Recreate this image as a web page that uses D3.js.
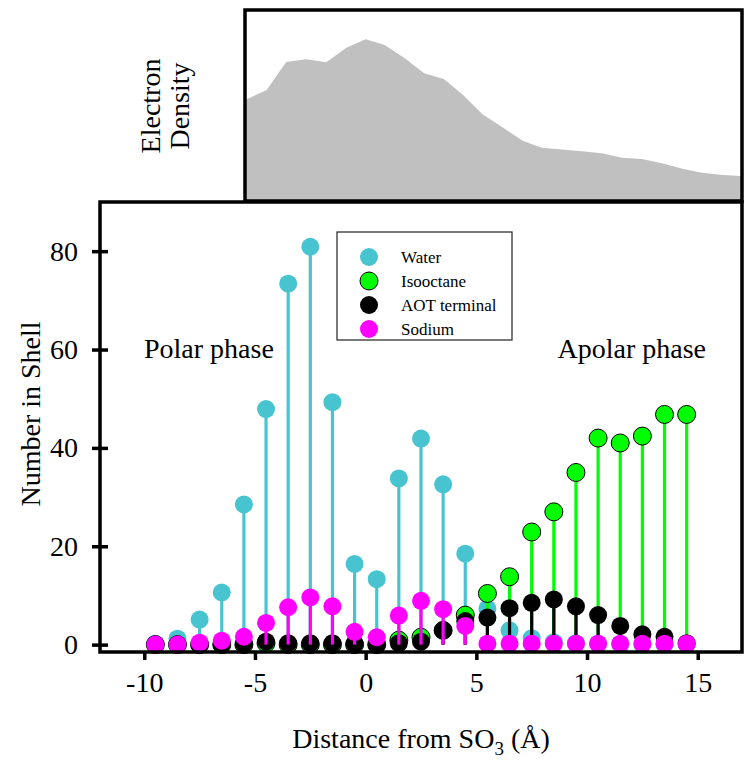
<!DOCTYPE html>
<html><head><meta charset="utf-8">
<script src="https://cdn.jsdelivr.net/npm/d3@7"></script>
<style>body{margin:0;background:#fff}text{font-family:"Liberation Serif","Times New Roman",serif}</style>
</head><body>
<svg id="c" width="752" height="764"></svg>
<script>
// ---- data ----
const distances = [-9.5,-8.5,-7.5,-6.5,-5.5,-4.5,-3.5,-2.5,-1.5,-0.5,0.5,1.5,2.5,3.5,4.5,5.5,6.5,7.5,8.5,9.5,10.5,11.5,12.5,13.5,14.5];
const water     = [0.2,1.2,5.1,10.6,28.5,47.9,73.4,80.9,49.3,16.4,13.3,33.8,41.9,32.6,18.5,7.3,2.9,1.3,0.5,0.3,0.2,0.1,0,0,0];
const isooctane = [0,0,0,0,0,0.3,0,0,0,0,0,0.9,1.5,2.9,6.0,10.4,13.8,22.9,27.0,35.0,42.0,41.0,42.4,46.8,46.8];
const aotTerminal = [0,0,0,0.1,0.2,0.6,0.3,0.3,0.3,0.2,0,0.3,0.6,2.9,4.8,5.5,7.4,8.5,9.2,7.8,6.0,3.8,2.1,1.6,0.3];
const sodium    = [0,0,0.4,0.8,1.6,4.4,7.6,9.6,7.8,2.6,1.5,5.9,8.9,7.2,3.8,0.2,0.2,0.2,0.2,0.2,0.2,0.2,0.2,0.2,0.2];
const densityX  = [-5.5,-5.4,-4.47,-3.59,-2.68,-1.78,-0.87,0,0.86,1.77,2.64,3.53,4.4,5.28,6.21,7.09,7.95,8.86,9.76,10.67,11.57,12.48,13.38,14.36,15.19,16.02,16.92,17];
const densityY  = [0.528,0.532,0.581,0.728,0.742,0.726,0.803,0.847,0.817,0.747,0.669,0.639,0.555,0.454,0.384,0.316,0.279,0.269,0.260,0.250,0.227,0.220,0.197,0.168,0.148,0.138,0.131,0.131];
const xTicks = [-10,-5,0,5,10,15];
const yTicks = [0,20,40,60,80];
const seriesNames = ["Water","Isooctane","AOT terminal","Sodium"];
const seriesColors = ["#48c4d0","#00ff00","#000000","#ff00ff"];

const svg = d3.select("#c");
const x = d3.scaleLinear().domain([-12,17]).range([100,742]);
const y = d3.scaleLinear().domain([-1.5,90]).range([652,202]);
const yd = d3.scaleLinear().domain([0,1]).range([201,10]);

// ---- top density panel ----
const area = d3.area().x((d,i)=>x(densityX[i])).y0(yd(0)).y1((d,i)=>yd(d));
svg.append("path").datum(densityY).attr("d",area).attr("fill","#c0c0c0");
svg.append("rect").attr("x",245).attr("y",10).attr("width",497).attr("height",191)
  .attr("fill","none").attr("stroke","#000").attr("stroke-width",3.5);
const ed = svg.append("text").attr("transform","translate(160,106) rotate(-90)")
  .attr("text-anchor","middle").attr("font-size",28);
ed.append("tspan").attr("x",0).attr("dy",0).text("Electron");
ed.append("tspan").attr("x",0).attr("dy",29).text("Density");

// ---- series ----
const all = [water,isooctane,aotTerminal,sodium];
all.forEach((vals,si)=>{
  const g = svg.append("g");
  g.selectAll("line").data(vals).join("line")
    .attr("x1",(d,i)=>x(distances[i])).attr("x2",(d,i)=>x(distances[i]))
    .attr("y1",y(0)).attr("y2",d=>y(d))
    .attr("stroke",seriesColors[si]).attr("stroke-width",3.2);
  g.selectAll("circle").data(vals).join("circle")
    .attr("cx",(d,i)=>x(distances[i])).attr("cy",d=>y(d)).attr("r",9)
    .attr("fill",seriesColors[si])
    .attr("stroke",si===1?"#000":"none").attr("stroke-width",1);
});

// ---- frame & axes ----
svg.append("path").attr("d",`M${x(-12)},${y(-1.5)}V${y(90)}H${x(17)}V${y(-1.5)}Z`)
  .attr("fill","none").attr("stroke","#000").attr("stroke-width",3.5);

const fmt = d => String(d);
const ya = svg.append("g").attr("transform",`translate(${x(-12)},0)`)
  .call(d3.axisLeft(y).tickValues(yTicks).tickSize(8).tickPadding(14).tickFormat(fmt));
ya.select(".domain").remove();
ya.selectAll(".tick line").attr("x1",8).attr("x2",-8).attr("stroke-width",3.5);
ya.selectAll(".tick text").attr("font-size",28).attr("font-family","Liberation Serif");

const xa = svg.append("g").attr("transform",`translate(0,${y(-1.5)})`)
  .call(d3.axisBottom(x).tickValues(xTicks).tickSize(8).tickPadding(12).tickFormat(fmt));
xa.select(".domain").remove();
xa.selectAll(".tick line").attr("stroke-width",3.5);
xa.selectAll(".tick text").attr("font-size",28).attr("font-family","Liberation Serif");

// axis titles
const xt = svg.append("text").attr("x",421).attr("y",748).attr("text-anchor","middle").attr("font-size",28);
xt.append("tspan").text("Distance from SO");
xt.append("tspan").attr("font-size",19).attr("dy",7).text("3");
xt.append("tspan").attr("dy",-7).text(" (Å)");
svg.append("text").attr("transform","translate(40,414) rotate(-90)").attr("text-anchor","middle")
  .attr("font-size",28).text("Number in Shell");

// annotations
svg.append("text").attr("x",144).attr("y",358).attr("font-size",28).text("Polar phase");
svg.append("text").attr("x",706).attr("y",358).attr("text-anchor","end").attr("font-size",28).text("Apolar phase");

// legend
const lg = svg.append("g");
lg.append("rect").attr("x",337).attr("y",232).attr("width",175).attr("height",108)
  .attr("fill","#fff").attr("stroke","#222").attr("stroke-width",1.2);
seriesNames.forEach((n,i)=>{
  const cy = 257 + i*24;
  lg.append("circle").attr("cx",369).attr("cy",cy).attr("r",9).attr("fill",seriesColors[i])
    .attr("stroke",i===1?"#000":"none");
  lg.append("text").attr("x",401).attr("y",cy+6).attr("font-size",17).text(n);
});
</script>
</body></html>
